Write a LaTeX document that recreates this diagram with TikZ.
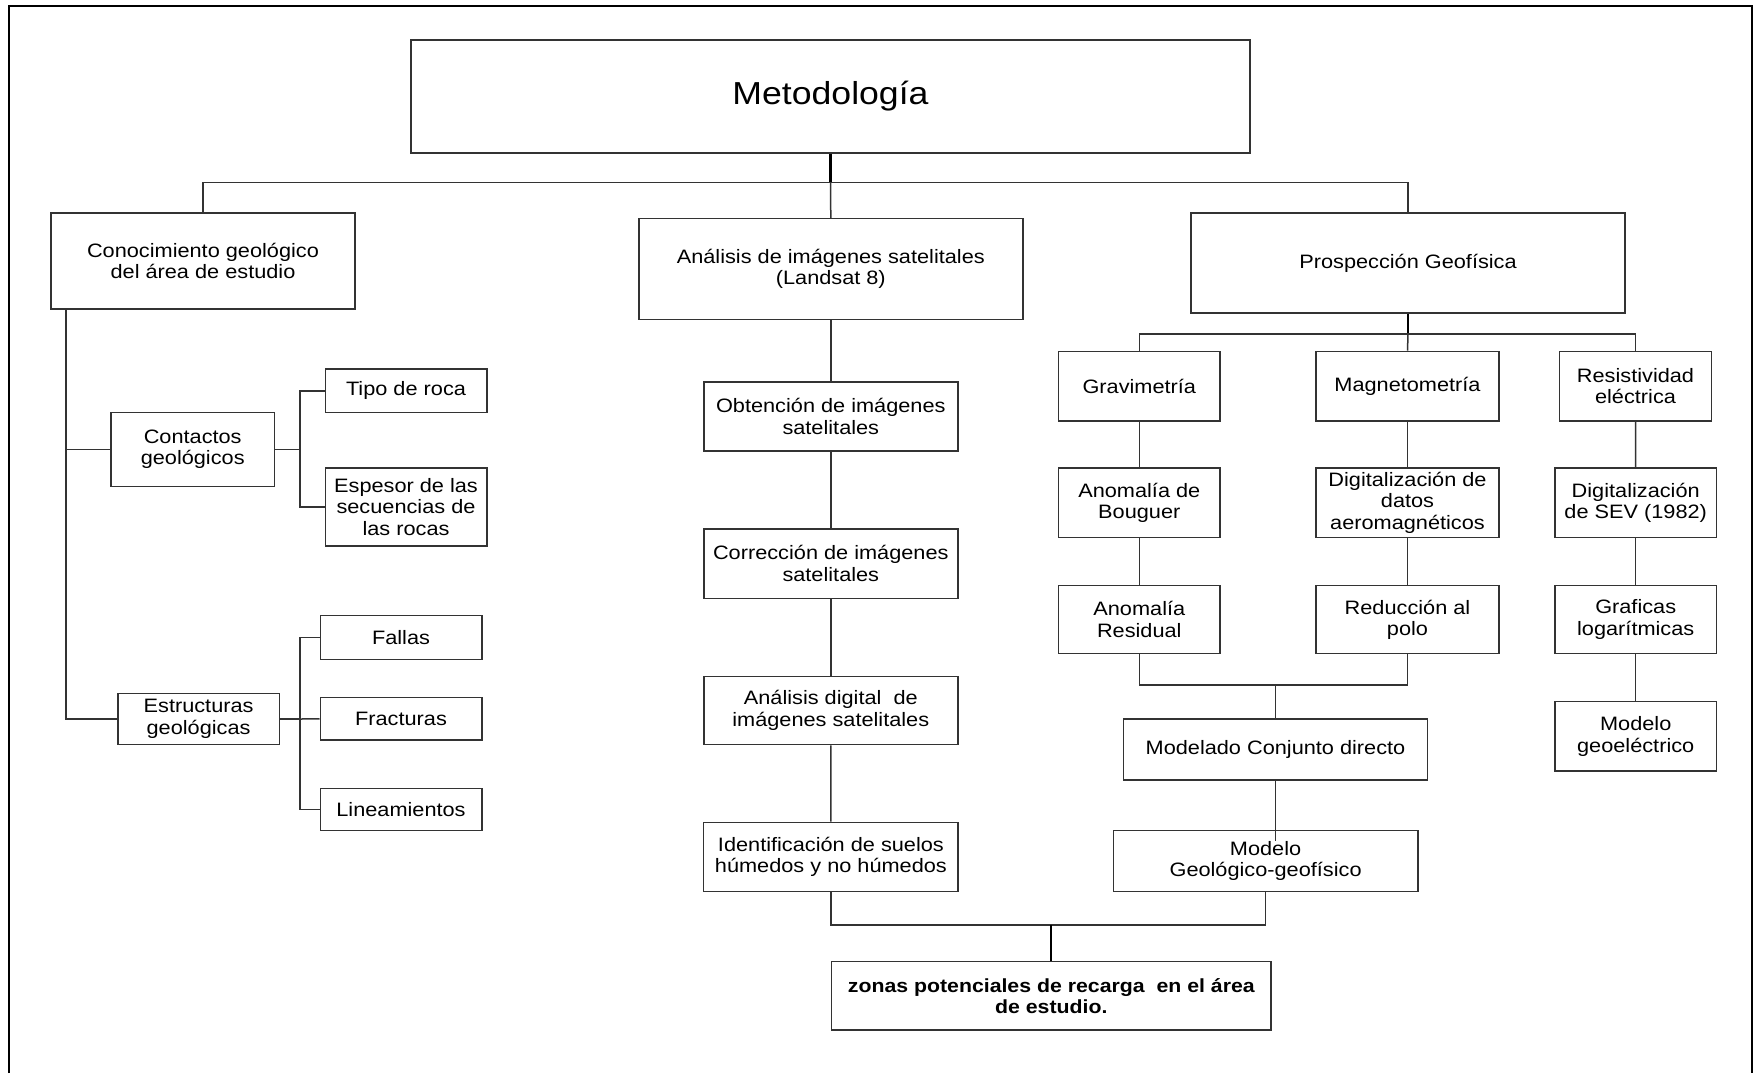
\documentclass[tikz,border=0pt]{standalone}
\usepackage{fontspec}
\setmainfont{Liberation Sans}[FakeStretch=1.12]
\usetikzlibrary{calc}
\definecolor{edge}{HTML}{333333}
\begin{document}
\begin{tikzpicture}[x=0.5pt,y=-0.5pt,
  box/.style={draw=edge, line width=0.75pt, inner sep=0pt, align=center, text=black,
    font=\fontsize{9.7}{10.7}\selectfont},
  sz/.style 2 args={minimum width=#1*0.5pt, minimum height=#2*0.5pt},
  link/.style={draw=edge, line width=0.75pt},
  trunk/.style={draw=black, line width=1.1pt}]

\useasboundingbox (0,0) rectangle (1754,1073);
\fill[white] (0,0) rectangle (1754,1073);
% open outer frame
\draw[line width=1.3pt, black] (9,1073) -- (9,6) -- (1752,6) -- (1752,1073);

% title
\node[box, sz={839}{113}, font=\fontsize{15.9}{18}\selectfont] (met) at (830.5,96.5) {Metodología};

% first level
\node[box, sz={304}{96}]  (con) at (203,261)   {Conocimiento geológico\\del área de estudio};
\node[box, sz={384}{101}] (ana) at (830.8,269) {Análisis de imágenes satelitales\\(Landsat 8)};
\node[box, sz={434}{100}] (pro) at (1408,263)  {Prospección Geofísica};

% geology branch
\node[box, sz={163.4}{73.6}] (cont) at (192.7,449.5) {Contactos\\geológicos};
\node[box, sz={161.5}{43.7}] (tipo) at (406,390.8)   {Tipo de roca};
\node[box, sz={161.5}{78}]   (esp)  at (406,507)     {Espesor de las\\secuencias de\\las rocas};
\node[box, sz={161.5}{51.4}] (est)  at (198.6,719)   {Estructuras\\geológicas};
\node[box, sz={161.5}{43.6}] (fal)  at (401,637.5)   {Fallas};
\node[box, sz={161.5}{42.3}] (fra)  at (401,718.8)   {Fracturas};
\node[box, sz={161.5}{42}]   (lin)  at (401,809.7)   {Lineamientos};

% satellite branch
\node[box, sz={254}{69}]   (obt)  at (830.8,416.5) {Obtención de imágenes\\satelitales};
\node[box, sz={254}{69.3}] (cor)  at (830.8,563.6) {Corrección de imágenes\\satelitales};
\node[box, sz={254}{68.4}] (adig) at (830.8,710.5) {Análisis digital\ \ de\\imágenes satelitales};
\node[box, sz={254.6}{69.4}] (ide) at (830.9,857)  {Identificación de suelos\\húmedos y no húmedos};

% geophysics branch
\node[box, sz={161.5}{69.5}] (grav)  at (1139.3,386.2) {Gravimetría};
\node[box, sz={183}{69.5}]   (mag)   at (1407.5,386.2) {Magnetometría};
\node[box, sz={152}{69.5}]   (res)   at (1635.5,386.2) {Resistividad\\eléctrica};
\node[box, sz={161.5}{69.3}] (bou)   at (1139.3,502.6) {Anomalía de\\Bouguer};
\node[box, sz={183}{69.3}]   (dig)   at (1407.5,502.6) {Digitalización de\\datos\\aeromagnéticos};
\node[box, sz={161.5}{69.3}] (sev)   at (1635.7,502.6) {Digitalización\\de SEV (1982)};
\node[box, sz={161.5}{68.2}] (resid) at (1139.3,619.6) {Anomalía\\Residual};
\node[box, sz={183}{68.2}]   (red)   at (1407.5,619.6) {Reducción al\\polo};
\node[box, sz={161.5}{68.2}] (graf)  at (1635.7,619.6) {Graficas\\logarítmicas};
\node[box, sz={161.5}{69.6}] (geoel) at (1635.7,736.4) {Modelo\\geoeléctrico};
\node[box, sz={304}{61.2}]   (modcon) at (1275.5,749.4) {Modelado Conjunto directo};
\node[box, sz={304.7}{61}]   (modgeo) at (1265.6,861.2) {Modelo\\Geológico-geofísico};

% result
\node[box, sz={439.4}{68.3}, font=\fontsize{9.5}{10.7}\selectfont\bfseries] (zon) at (1051.3,995.8)
  {zonas potenciales de recarga\ \ en el área\\de estudio.};

% top bus
\coordinate (b1) at (830.5,182.5);
\draw[trunk] (met.south) -- (b1);
\draw[link] (con.north) |- (b1) -| (pro.north);
\draw[link] (b1) -- (ana.north);

% geology connectors
\coordinate (c0) at ($(con.south west)+(15.6,0)$);
\draw[link] (c0) |- (cont.west);
\draw[link] (c0) |- (est.west);
\coordinate (c1) at ($(cont.east)+(25,0)$);
\draw[link] (cont.east) -- (c1);
\draw[link] (tipo.west) -| (c1);
\draw[link] (esp.west) -| (c1);
\coordinate (c2) at ($(est.east)+(20,0)$);
\draw[link] (est.east) -- (c2);
\draw[link] (fal.west) -| (c2);
\draw[link] (lin.west) -| (c2);
\draw[link] (fra.west) -- (c2);

% satellite chain
\draw[link] (ana.south) -- (obt.north);
\draw[link] (obt.south) -- (cor.north);
\draw[link] (cor.south) -- (adig.north);
\draw[link] (adig.south) -- (ide.north);

% geophysics connectors
\coordinate (b2) at ($(pro.south)+(0,20)$);
\draw[trunk] (pro.south) -- (b2);
\draw[link] (grav.north) |- (b2) -| (res.north);
\draw[link] (b2) -- (mag.north);
\draw[link] (grav.south) -- (bou.north);
\draw[link] (bou.south) -- (resid.north);
\draw[link] (mag.south) -- (dig.north);
\draw[link] (dig.south) -- (red.north);
\draw[link] (res.south) -- (sev.north);
\draw[link] (sev.south) -- (graf.north);
\draw[link] (graf.south) -- (geoel.north);
\coordinate (b3) at ($(modcon.north)+(0,-33)$);
\draw[link] (resid.south) |- (b3) -| (red.south);
\draw[link] (b3) -- (modcon.north);
\coordinate (m4) at ($(modgeo.north -| modcon.south)+(0,11)$);
\draw[link] (modcon.south) -- (m4);

% merge into result
\coordinate (b5) at ($(zon.north)+(0,-36)$);
\draw[link] (ide.south) |- (b5) -| (modgeo.south);
\draw[trunk] (b5) -- (zon.north);
\end{tikzpicture}
\end{document}
